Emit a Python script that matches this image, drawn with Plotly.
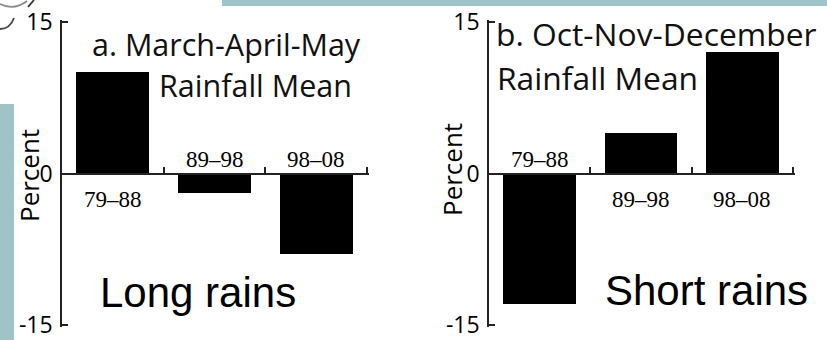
import plotly.graph_objects as go

# Rainfall anomaly (percent of long-term mean) for three decades
periods = ["79–88", "89–98", "98–08"]
long_rains = [10, -2, -8]     # March-April-May
short_rains = [-13, 4, 12]    # Oct-Nov-December

W, H = 827, 340


def px_x(v):
    return v / W


def px_y(v):
    return 1 - v / H


fig = go.Figure()

xpos = [i + 0.5 for i in range(len(periods))]
fig.add_trace(go.Bar(x=xpos, y=long_rains, width=0.72, marker=dict(color="black", line=dict(width=0)),
                     xaxis="x", yaxis="y", showlegend=False, hoverinfo="skip"))
fig.add_trace(go.Bar(x=xpos, y=short_rains, width=0.72, marker=dict(color="black", line=dict(width=0)),
                     xaxis="x2", yaxis="y2", showlegend=False, hoverinfo="skip"))

# ranges are padded slightly so the inside ticks at the ends are still drawn
ypad = 0.16
top_px, bot_px = 22, 325
ppu_y = (bot_px - top_px) / 30.0
ydom = [px_y(bot_px + ypad * ppu_y), px_y(top_px - ypad * ppu_y)]
zero_pos = px_y((top_px + bot_px) / 2)

xpad = 0.02


def xdom(left_px, right_px):
    ppu_x = (right_px - left_px) / 3.0
    return [px_x(left_px), px_x(right_px + xpad * ppu_x)]


axis_line = dict(showline=True, linecolor="#222", linewidth=1.5, showgrid=False, zeroline=False,
                 automargin=False)
yax = dict(axis_line, range=[-15 - ypad, 15 + ypad], domain=ydom, ticks="inside", ticklen=6,
           tickwidth=1.5, tickcolor="#222", tickvals=[-15, 0, 15], ticktext=["-15", "0", "15"],
           ticklabeloverflow="allow", ticklabelstandoff=3,
           tickfont=dict(family="Open Sans", size=23, color="black"))
xax = dict(axis_line, range=[0, 3 + xpad], anchor="free", position=zero_pos, ticks="inside",
           ticklen=6, tickwidth=1.5, tickcolor="#222", tickvals=[1, 2, 3], showticklabels=False)

fig.update_layout(
    template="none",
    width=W, height=H, margin=dict(l=0, r=0, t=0, b=0, pad=0),
    paper_bgcolor="white", plot_bgcolor="rgba(0,0,0,0)",
    bargap=0,
    xaxis=dict(xax, domain=xdom(62, 367)),
    yaxis=dict(yax, anchor="x"),
    xaxis2=dict(xax, domain=xdom(489, 793)),
    yaxis2=dict(yax, anchor="x2"),
)

annotations = []

# period labels: opposite side of the zero line from the bar
for ax, vals in (("", long_rains), ("2", short_rains)):
    for xv, lab, v in zip(xpos, periods, vals):
        annotations.append(dict(
            x=xv, y=0, xref="x" + ax, yref="y" + ax, text=lab, showarrow=False,
            yshift=14 if v < 0 else -26,
            font=dict(family="Liberation Serif", size=23, color="black"),
        ))

for text, x, y, size in (("a. March-April-May", 90, 44, 30.5), ("Rainfall Mean", 157, 85, 30.5),
                         ("b. Oct-Nov-December", 494, 34, 31.8), ("Rainfall Mean", 495, 78, 31.8)):
    annotations.append(dict(x=px_x(x), y=px_y(y), xref="paper", yref="paper", text=text,
                            showarrow=False, xanchor="left", yanchor="middle",
                            font=dict(family="Open Sans", size=size, color="#111")))

for x, y in ((29, 176), (452, 170)):
    annotations.append(dict(x=px_x(x), y=px_y(y), xref="paper", yref="paper", text="Percent",
                            textangle=-90, showarrow=False, xanchor="center", yanchor="middle",
                            font=dict(family="Open Sans", size=26, color="black")))

for text, x, y in (("Long rains", 98, 292), ("Short rains", 603, 290)):
    annotations.append(dict(x=px_x(x), y=px_y(y), xref="paper", yref="paper", text=text,
                            showarrow=False, xanchor="left", yanchor="middle",
                            font=dict(family="Liberation Sans", size=42, color="black")))

fig.update_layout(annotations=annotations)

# slide decoration: teal bands and a small swirl in the corner
teal = "#9fc3c6"

shapes = [
    dict(type="rect", xref="paper", yref="paper", x0=0, x1=px_x(14), y0=0, y1=px_y(104),
         fillcolor=teal, line=dict(width=0), layer="below"),
    dict(type="rect", xref="paper", yref="paper", x0=px_x(222), x1=1, y0=px_y(6), y1=1,
         fillcolor=teal, line=dict(width=0), layer="below"),
]


def path_str(cmds):
    out = []
    for c in cmds:
        op, pts = c[0], c[1:]
        out.append(op + " " + " ".join(f"{px_x(a):.5f},{px_y(b):.5f}" for a, b in pts))
    return " ".join(out)


for cmds, col in (
    ([("M", (0, 4)), ("Q", (14, 11), (27, 1))], "#8a8a8a"),
    ([("M", (28, 7)), ("L", (34, 0))], "#333"),
    ([("M", (0, 29)), ("Q", (10, 29), (14, 18))], "#444"),
):
    shapes.append(dict(type="path", xref="paper", yref="paper", path=path_str(cmds),
                       line=dict(color=col, width=1.8)))

fig.update_layout(shapes=shapes)

fig.write_html("out.html")
